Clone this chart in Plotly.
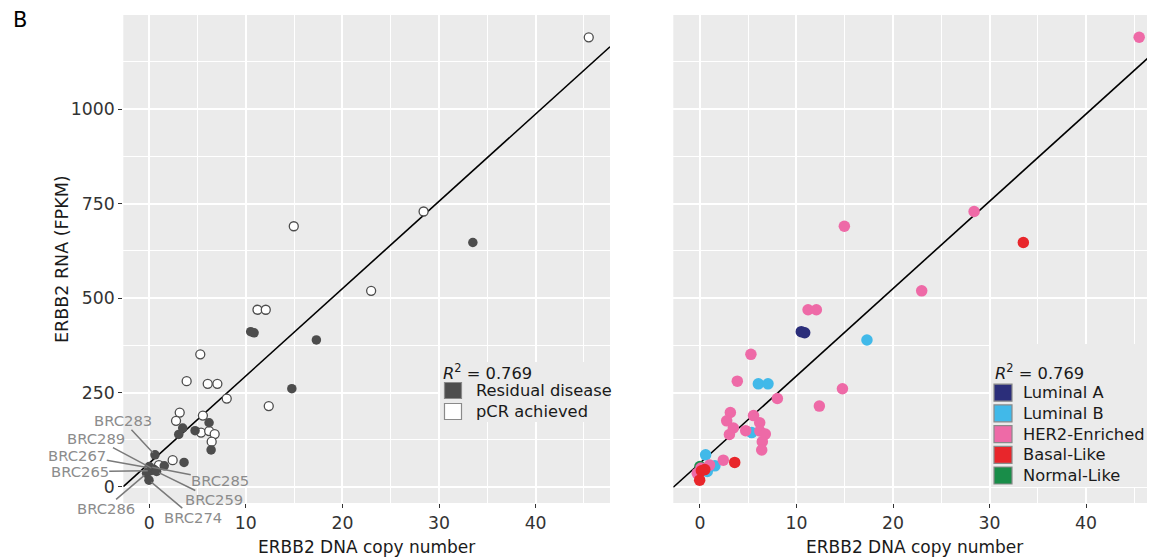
import plotly.graph_objects as go
import numpy as np

# ---------------- data ----------------
x_dna = [45.5, 28.4, 14.96, 33.5, 22.97, 11.2, 12.06, 10.5, 10.85, 17.3,
         14.76, 5.28, 6.05, 7.05, 3.87, 8.02, 12.37, 3.15, 2.77, 5.55,
         6.19, 3.46, 3.05, 4.74, 5.36, 6.2, 6.77, 6.46, 6.4, 0.59,
         2.42, 3.6, 1.55, 1.0, 0.5, 0.1, 0.15, -0.28, 0.0, 0.76, -0.03]
y_rna = [1190, 729, 690, 647, 519, 469, 469, 411, 408, 389,
         260, 351, 273, 273, 280, 234, 214, 197, 175, 189,
         170, 156, 139, 149, 144, 148, 140, 120, 98, 85,
         71, 65, 56, 58, 46, 50, 43, 36, 54, 41, 18]
response = ["pCR", "pCR", "pCR", "Res", "pCR", "pCR", "pCR", "Res", "Res", "Res",
            "Res", "pCR", "pCR", "pCR", "pCR", "pCR", "pCR", "pCR", "pCR", "pCR",
            "Res", "Res", "Res", "Res", "pCR", "pCR", "pCR", "pCR", "Res", "Res",
            "pCR", "Res", "Res", "pCR", "Res", "Res", "Res", "Res", "Res", "Res", "Res"]
subtype = ["HER2", "HER2", "HER2", "Basal", "HER2", "HER2", "HER2", "LumA", "LumA", "LumB",
           "HER2", "HER2", "LumB", "LumB", "HER2", "HER2", "HER2", "HER2", "HER2", "HER2",
           "HER2", "HER2", "HER2", "HER2", "LumB", "HER2", "HER2", "HER2", "HER2", "LumB",
           "HER2", "Basal", "LumB", "HER2", "Basal", "HER2", "Basal", "HER2", "Normal", "LumB", "Basal"]
sample_label = [""] * 29 + ["BRC283", "", "", "", "", "BRC289", "BRC267", "BRC265",
                            "BRC286", "BRC285", "BRC259", "BRC274"]

reg_intercept = 63.0
reg_slope = 23.1
r2_text = "0.769"

response_names = {"Res": "Residual disease", "pCR": "pCR achieved"}
subtype_order = ["LumA", "LumB", "HER2", "Basal", "Normal"]
subtype_names = {"LumA": "Luminal A", "LumB": "Luminal B", "HER2": "HER2-Enriched",
                 "Basal": "Basal-Like", "Normal": "Normal-Like"}

x_ticks = [0, 10, 20, 30, 40]
y_ticks = [0, 250, 500, 750, 1000]

# ---------------- styles / layout ----------------
OFF = 8                      # page body margin of the html page
W, H = 1155 - OFF, 559 - OFF
MT, MB = 15 - OFF, 56
FONT = "DejaVu Sans"
subtype_colors = {"LumA": "#2B2E7A", "LumB": "#41B9E9", "HER2": "#EE6AA7",
                  "Basal": "#E8262B", "Normal": "#198D49"}
draw_order = ["Normal", "LumA", "LumB", "HER2", "Basal"]
dark = "#4D4D4D"
x_range = [-2.69, 47.7]
x2_range = [-2.76, 47.14]
y_range = [-42.4, 1249]

# label offsets (pixels, text centre relative to point)
label_offsets = {"BRC283": (-32, -34), "BRC289": (-58, -31), "BRC267": (-73, -13),
                 "BRC265": (-71, 1), "BRC286": (-41, 35), "BRC285": (71, 14),
                 "BRC259": (57, 28), "BRC274": (44, 37)}


def pxx(x):
    return (x - OFF) / W


def pyy(y):
    return (H - MB - (y - OFF)) / (H - MT - MB)


x_arr = np.array(x_dna)
y_arr = np.array(y_rna)
resp_arr = np.array(response)
sub_arr = np.array(subtype)

fig = go.Figure()

# regression lines
for xa, ya, rng in (("x", "y", x_range), ("x2", "y2", x2_range)):
    xs = np.array(rng)
    fig.add_trace(go.Scatter(x=xs, y=reg_intercept + reg_slope * xs, mode="lines",
                             line=dict(color="black", width=1.6), xaxis=xa, yaxis=ya,
                             hoverinfo="skip", showlegend=False, cliponaxis=True))

# left panel points
m = resp_arr == "pCR"
fig.add_trace(go.Scatter(x=x_arr[m], y=y_arr[m], mode="markers", name=response_names["pCR"],
                         marker=dict(size=9, color="white", line=dict(color=dark, width=1.3)),
                         xaxis="x", yaxis="y", showlegend=False))
m = resp_arr == "Res"
fig.add_trace(go.Scatter(x=x_arr[m], y=y_arr[m], mode="markers", name=response_names["Res"],
                         marker=dict(size=9.5, color=dark, line=dict(color=dark, width=0)),
                         xaxis="x", yaxis="y", showlegend=False))

# right panel points
for s in draw_order:
    m = sub_arr == s
    fig.add_trace(go.Scatter(x=x_arr[m], y=y_arr[m], mode="markers", name=subtype_names[s],
                             marker=dict(size=11.5, color=subtype_colors[s], line=dict(width=0)),
                             xaxis="x2", yaxis="y2", showlegend=False))

annotations = []
# sample labels (left panel)
for xv, yv, lab in zip(x_dna, y_rna, sample_label):
    if not lab:
        continue
    ax, ay = label_offsets[lab]
    annotations.append(dict(x=xv, y=yv, xref="x", yref="y", text=lab, showarrow=True,
                            ax=ax, ay=ay, arrowhead=0, arrowwidth=1.5, arrowcolor="#7A7A7A",
                            standoff=3, borderpad=0,
                            font=dict(family=FONT, size=14.8, color="#8C8C8C")))

shapes = []


def legend_box(x0, x1, y0, y1):
    shapes.append(dict(type="rect", xref="paper", yref="paper", x0=pxx(x0), x1=pxx(x1),
                       y0=pyy(y1), y1=pyy(y0), fillcolor="#EBEBEB", line=dict(width=0),
                       layer="above"))


def key(x0, y0, w, h, color):
    shapes.append(dict(type="rect", xref="paper", yref="paper", x0=pxx(x0), x1=pxx(x0 + w),
                       y0=pyy(y0 + h), y1=pyy(y0), fillcolor=color,
                       line=dict(width=1.2, color="#8A8A8A"), layer="above"))


def text(x, y, s, size=16.3, anchor="left", color="#1A1A1A", angle=0):
    annotations.append(dict(x=pxx(x), y=pyy(y), xref="paper", yref="paper", text=s,
                            showarrow=False, xanchor=anchor, yanchor="middle", textangle=angle,
                            font=dict(family=FONT, size=size, color=color)))


r2_label = "<i>R</i><sup>2</sup> = " + r2_text

# left legend
legend_box(440, 610, 362, 422)
text(441, 371.5, r2_label)
key(444.5, 382.5, 17, 16, dark)
text(474, 390.5, response_names["Res"])
key(444.5, 403.5, 17, 16, "white")
text(474, 411.5, response_names["pCR"])

# right legend
legend_box(991, 1155, 344, 487)
text(993, 371.5, r2_label)
for i, s in enumerate(subtype_order):
    yc = 392.7 + i * 20.7
    key(994, yc - 8.5, 18, 17, subtype_colors[s])
    text(1021, yc, subtype_names[s])

# titles
text(366.7, 547, "ERBB2 DNA copy number", size=17, anchor="center")
text(914.2, 547, "ERBB2 DNA copy number", size=17, anchor="center")
text(62, 259, "ERBB2 RNA (FPKM)", size=17.5, anchor="center", angle=-90)
text(20, 20, "B", size=21, anchor="center", color="black")

axis_common = dict(showgrid=True, gridcolor="white", gridwidth=2, zeroline=False, showline=False,
                   tickfont=dict(family=FONT, size=17.3, color="#333333"))

fig.update_layout(
    width=W, height=H,
    margin=dict(l=0, r=0, t=MT, b=MB, pad=0),
    paper_bgcolor="white", plot_bgcolor="#EBEBEB",
    showlegend=False,
    xaxis=dict(domain=[pxx(123.3), pxx(610)], range=x_range, tickmode="array", tickvals=x_ticks,
               ticks="outside", ticklen=4, tickwidth=1.1, tickcolor="#333333",
               minor=dict(showgrid=True, gridcolor="white", gridwidth=1.1, dtick=5, tick0=0),
               anchor="y", **axis_common),
    yaxis=dict(domain=[0, 1], range=y_range, tickmode="array", tickvals=y_ticks,
               ticks="outside", ticklen=4, tickwidth=1.1, tickcolor="#333333",
               minor=dict(showgrid=True, gridcolor="white", gridwidth=1.1, dtick=125, tick0=0),
               anchor="x", **axis_common),
    xaxis2=dict(domain=[pxx(673.3), 1.0], range=x2_range, tickmode="array", tickvals=x_ticks,
                ticks="outside", ticklen=4, tickwidth=1.1, tickcolor="#333333",
                minor=dict(showgrid=True, gridcolor="white", gridwidth=1.1, dtick=5, tick0=0),
                anchor="y2", **axis_common),
    yaxis2=dict(domain=[0, 1], range=y_range, tickmode="array", tickvals=y_ticks,
                showticklabels=False, ticks="",
                minor=dict(showgrid=True, gridcolor="white", gridwidth=1.1, dtick=125, tick0=0),
                anchor="x2", **axis_common),
    annotations=annotations,
    shapes=shapes,
    font=dict(family=FONT),
)

fig.write_html("out.html")
